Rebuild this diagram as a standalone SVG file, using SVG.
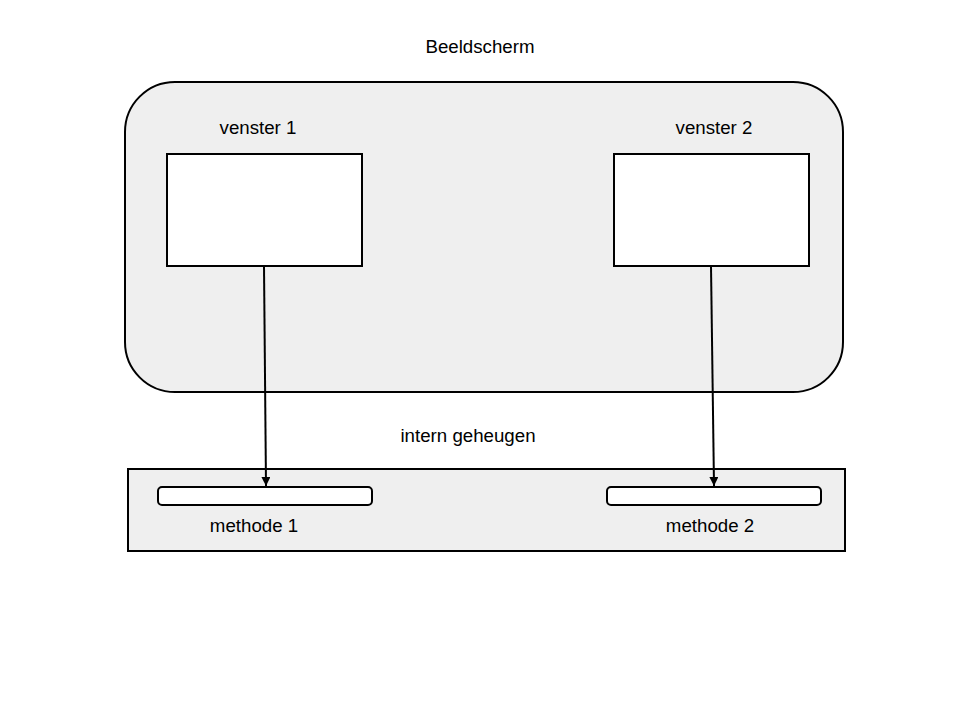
<svg xmlns="http://www.w3.org/2000/svg" width="960" height="720" viewBox="0 0 960 720">
<defs>
<style>
text{font-family:"Liberation Sans",Arial,sans-serif;font-size:18.7px;fill:#000;text-anchor:middle}
.gray{fill:#efefef;stroke:#000;stroke-width:2}
.white{fill:#fff;stroke:#000;stroke-width:2}
.conn{stroke:#000;stroke-width:2;fill:none;marker-end:url(#ah)}
</style>
<marker id="ah" viewBox="0 0 10 10" refX="10" refY="5" markerWidth="13" markerHeight="9" orient="auto" markerUnits="userSpaceOnUse">
<path d="M0,0 L10,5 L0,10 z" fill="#000"/>
</marker>
</defs>
<rect width="960" height="720" fill="#fff"/>
<g id="beeldscherm">
<rect class="gray" x="125" y="82" width="718" height="310" rx="50" ry="50"/>
<text x="480" y="53">Beeldscherm</text>
</g>
<g id="venster1">
<rect class="white" x="167" y="154" width="195" height="112"/>
<text x="258" y="134">venster 1</text>
</g>
<g id="venster2">
<rect class="white" x="614" y="154" width="195" height="112"/>
<text x="714" y="134">venster 2</text>
</g>
<g id="geheugen">
<rect class="gray" x="128" y="469" width="717" height="82"/>
<text x="468" y="442">intern geheugen</text>
</g>
<g id="methode1">
<rect class="white" x="158" y="487" width="214" height="18" rx="4" ry="4"/>
<text x="254" y="532">methode 1</text>
</g>
<g id="methode2">
<rect class="white" x="607" y="487" width="214" height="18" rx="4" ry="4"/>
<text x="710" y="532">methode 2</text>
</g>
<g id="connectors">
<line class="conn" x1="264" y1="266" x2="266" y2="486"/>
<line class="conn" x1="711" y1="266" x2="714" y2="486"/>
</g>
</svg>
